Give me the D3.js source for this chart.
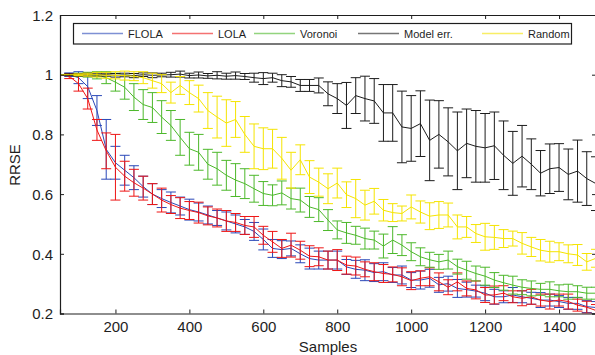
<!DOCTYPE html>
<html>
<head>
<meta charset="utf-8">
<script src="https://cdn.jsdelivr.net/npm/d3@7"></script>
<style>
  html, body { margin: 0; padding: 0; background: #fff; }
  svg { display: block; font-family: "Liberation Sans", Arial, Helvetica, sans-serif; }
</style>
</head>
<body>
<svg id="chart" width="595" height="355"></svg>
<script>
const samples = [
  50, 75, 100, 125, 150, 175, 200, 225, 250, 275,
  300, 325, 350, 375, 400, 425, 450, 475, 500, 525,
  550, 575, 600, 625, 650, 675, 700, 725, 750, 775,
  800, 825, 850, 875, 900, 925, 950, 975, 1000, 1025,
  1050, 1075, 1100, 1125, 1150, 1175, 1200, 1225, 1250, 1275,
  1300, 1325, 1350, 1375, 1400, 1425, 1450, 1475, 1500
];
const flola = [
  1.0, 1.0, 0.99, 0.96, 0.88, 0.75, 0.705, 0.68, 0.655, 0.625,
  0.60, 0.585, 0.572, 0.56, 0.548, 0.54, 0.53, 0.52, 0.51, 0.50,
  0.49, 0.475, 0.448, 0.418, 0.414, 0.418, 0.40, 0.384, 0.379, 0.379,
  0.379, 0.356, 0.348, 0.345, 0.337, 0.34, 0.329, 0.329, 0.312, 0.312,
  0.318, 0.296, 0.30, 0.284, 0.28, 0.275, 0.268, 0.256, 0.256, 0.262,
  0.256, 0.251, 0.245, 0.245, 0.24, 0.234, 0.234, 0.223, 0.22
];
const flolaErr = [
  0, 0.006, 0.02, 0.04, 0.05, 0.10, 0.055, 0.05, 0.04, 0.035,
  0.035, 0.03, 0.035, 0.03, 0.035, 0.03, 0.03, 0.025, 0.03, 0.03,
  0.025, 0.03, 0.035, 0.03, 0.03, 0.025, 0.03, 0.035, 0.03, 0.03,
  0.03, 0.025, 0.03, 0.035, 0.03, 0.03, 0.025, 0.03, 0.025, 0.03,
  0.03, 0.025, 0.025, 0.03, 0.025, 0.02, 0.025, 0.025, 0.02, 0.025,
  0.02, 0.02, 0.025, 0.02, 0.02, 0.02, 0.02, 0.02, 0.02
];
const lola = [
  1.0, 0.995, 0.97, 0.92, 0.815, 0.745, 0.69, 0.66, 0.638, 0.62,
  0.60, 0.58, 0.565, 0.553, 0.545, 0.538, 0.527, 0.52, 0.51, 0.505,
  0.495, 0.49, 0.462, 0.44, 0.418, 0.429, 0.412, 0.392, 0.39, 0.379,
  0.379, 0.362, 0.359, 0.348, 0.34, 0.334, 0.331, 0.323, 0.31, 0.318,
  0.323, 0.306, 0.288, 0.306, 0.284, 0.279, 0.262, 0.262, 0.268, 0.256,
  0.251, 0.256, 0.245, 0.24, 0.245, 0.24, 0.228, 0.221, 0.21
];
const lolaErr = [
  0, 0.008, 0.025, 0.035, 0.035, 0.06, 0.11, 0.05, 0.045, 0.04,
  0.035, 0.04, 0.03, 0.035, 0.03, 0.035, 0.03, 0.03, 0.035, 0.03,
  0.03, 0.035, 0.03, 0.035, 0.03, 0.04, 0.03, 0.035, 0.03, 0.03,
  0.035, 0.03, 0.03, 0.025, 0.03, 0.03, 0.025, 0.03, 0.03, 0.025,
  0.03, 0.03, 0.025, 0.03, 0.025, 0.03, 0.025, 0.03, 0.025, 0.02,
  0.025, 0.025, 0.02, 0.025, 0.02, 0.025, 0.02, 0.02, 0.02
];
const voronoi = [
  1.0, 1.0, 1.0, 1.0, 0.998, 0.99, 0.975, 0.958, 0.925, 0.90,
  0.89, 0.858, 0.83, 0.79, 0.752, 0.74, 0.70, 0.685, 0.663, 0.647,
  0.635, 0.618, 0.602, 0.596, 0.604, 0.585, 0.58, 0.557, 0.548, 0.513,
  0.48, 0.47, 0.462, 0.451, 0.446, 0.426, 0.446, 0.429, 0.407, 0.39,
  0.38, 0.373, 0.379, 0.357, 0.345, 0.334, 0.325, 0.312, 0.303, 0.295,
  0.288, 0.284, 0.281, 0.281, 0.276, 0.273, 0.273, 0.268, 0.268
];
const voronoiErr = [
  0, 0, 0.005, 0.008, 0.012, 0.02, 0.03, 0.04, 0.045, 0.05,
  0.05, 0.055, 0.05, 0.06, 0.055, 0.06, 0.05, 0.055, 0.05, 0.055,
  0.05, 0.045, 0.04, 0.035, 0.04, 0.035, 0.04, 0.035, 0.04, 0.035,
  0.03, 0.035, 0.03, 0.035, 0.03, 0.04, 0.045, 0.035, 0.03, 0.03,
  0.025, 0.025, 0.03, 0.025, 0.03, 0.025, 0.03, 0.025, 0.025, 0.03,
  0.025, 0.025, 0.02, 0.025, 0.02, 0.025, 0.02, 0.02, 0.02
];
const modelError = [
  1.0, 1.0, 1.0, 1.0, 1.0, 1.0, 0.998, 0.999, 0.997, 1.0,
  0.998, 0.999, 1.0, 1.002, 0.997, 0.999, 0.996, 0.998, 0.995, 0.997,
  0.994, 0.99, 0.987, 0.99, 0.98, 0.976, 0.964, 0.964, 0.964, 0.936,
  0.92, 0.897, 0.93, 0.92, 0.912, 0.872, 0.872, 0.825, 0.82, 0.836,
  0.78, 0.80, 0.775, 0.745, 0.77, 0.76, 0.755, 0.762, 0.73, 0.703,
  0.727, 0.70, 0.67, 0.685, 0.689, 0.666, 0.677, 0.652, 0.635
];
const modelErrorErr = [
  0, 0.003, 0.004, 0.005, 0.005, 0.005, 0.006, 0.006, 0.007, 0.006,
  0.008, 0.006, 0.008, 0.01, 0.008, 0.01, 0.008, 0.012, 0.01, 0.012,
  0.01, 0.015, 0.02, 0.015, 0.02, 0.018, 0.02, 0.02, 0.025, 0.04,
  0.05, 0.077, 0.06, 0.075, 0.075, 0.095, 0.095, 0.12, 0.11, 0.11,
  0.135, 0.113, 0.114, 0.13, 0.115, 0.12, 0.115, 0.113, 0.115, 0.107,
  0.103, 0.085, 0.076, 0.083, 0.08, 0.085, 0.104, 0.09, 0.09
];
const random = [
  1.0, 1.0, 1.0, 1.0, 1.0, 0.998, 0.998, 0.997, 0.995, 0.99,
  0.98, 0.97, 0.94, 0.964, 0.94, 0.92, 0.88, 0.858, 0.838, 0.85,
  0.80, 0.76, 0.752, 0.752, 0.72, 0.68, 0.715, 0.657, 0.64, 0.618,
  0.637, 0.598, 0.585, 0.563, 0.576, 0.546, 0.538, 0.535, 0.557, 0.54,
  0.526, 0.53, 0.53, 0.49, 0.49, 0.468, 0.457, 0.455, 0.451, 0.451,
  0.435, 0.423, 0.412, 0.407, 0.407, 0.40, 0.396, 0.373, 0.385
];
const randomErr = [
  0, 0, 0.003, 0.005, 0.008, 0.01, 0.012, 0.015, 0.015, 0.02,
  0.025, 0.03, 0.035, 0.03, 0.04, 0.045, 0.06, 0.07, 0.078, 0.06,
  0.06, 0.075, 0.07, 0.065, 0.07, 0.06, 0.05, 0.055, 0.047, 0.05,
  0.05, 0.043, 0.064, 0.05, 0.043, 0.036, 0.03, 0.025, 0.04, 0.037,
  0.045, 0.045, 0.04, 0.04, 0.035, 0.03, 0.045, 0.04, 0.03, 0.025,
  0.036, 0.032, 0.036, 0.035, 0.03, 0.03, 0.035, 0.028, 0.03
];
const seriesNames = ["FLOLA", "LOLA", "Voronoi", "Model err.", "Random"];
const seriesColors = ["#2a48b8", "#ee1515", "#4cb82a", "#1c1c1c", "#f5e400"];
const xTicks = [200, 400, 600, 800, 1000, 1200, 1400];
const yTicks = [0.2, 0.4, 0.6, 0.8, 1.0, 1.2];
const yTickLabels = ["0.2", "0.4", "0.6", "0.8", "1", "1.2"];
const xLabel = "Samples";
const yLabel = "RRSE";

const seriesMeans = [flola, lola, voronoi, modelError, random];
const seriesErrs = [flolaErr, lolaErr, voronoiErr, modelErrorErr, randomErr];

(function draw() {
  const svg = d3.select("#chart");
  const pLeft = 60, pRight = 596, pTop = 15, pBottom = 313.5;
  const x = d3.scaleLinear().domain([50, 1500]).range([pLeft, pRight]);
  const y = d3.scaleLinear().domain([0.2, 1.2]).range([pBottom, pTop]);
  const axisColor = "#1e1e1e";

  svg.append("defs").append("clipPath").attr("id", "plotclip")
    .append("rect").attr("x", pLeft).attr("y", pTop).attr("width", pRight - pLeft).attr("height", pBottom - pTop);

  const plot = svg.append("g").attr("clip-path", "url(#plotclip)");
  const capHalf = 5;

  seriesMeans.forEach((means, si) => {
    const errs = seriesErrs[si];
    const color = seriesColors[si];
    const g = plot.append("g");
    const pts = samples.map((s, i) => ({ s, m: means[i], e: errs[i] }));
    const bars = g.selectAll("g.eb").data(pts.filter(d => d.e > 0)).join("g").attr("class", "eb");
    bars.append("line")
      .attr("x1", d => x(d.s)).attr("x2", d => x(d.s))
      .attr("y1", d => y(d.m - d.e)).attr("y2", d => y(d.m + d.e))
      .attr("stroke", color).attr("stroke-width", 1);
    bars.append("line")
      .attr("x1", d => x(d.s) - capHalf).attr("x2", d => x(d.s) + capHalf)
      .attr("y1", d => y(d.m - d.e)).attr("y2", d => y(d.m - d.e))
      .attr("stroke", color).attr("stroke-width", 1);
    bars.append("line")
      .attr("x1", d => x(d.s) - capHalf).attr("x2", d => x(d.s) + capHalf)
      .attr("y1", d => y(d.m + d.e)).attr("y2", d => y(d.m + d.e))
      .attr("stroke", color).attr("stroke-width", 1);
    g.append("path").datum(pts)
      .attr("fill", "none").attr("stroke", color).attr("stroke-width", 1)
      .attr("d", d3.line().x(d => x(d.s)).y(d => y(d.m)));
  });

  const xAxisB = d3.axisBottom(x).tickValues(xTicks).tickSize(-4).tickPadding(8).tickFormat(d3.format("d"));
  const gxb = svg.append("g").attr("transform", `translate(0,${pBottom})`).call(xAxisB);
  const xAxisT = d3.axisTop(x).tickValues(xTicks).tickSize(-4).tickFormat("");
  const gxt = svg.append("g").attr("transform", `translate(0,${pTop})`).call(xAxisT);
  const yAxisL = d3.axisLeft(y).tickValues(yTicks).tickSize(-4).tickPadding(7)
    .tickFormat((d, i) => yTickLabels[i]);
  const gyl = svg.append("g").attr("transform", `translate(${pLeft},0)`).call(yAxisL);
  const yAxisR = d3.axisRight(y).tickValues(yTicks).tickSize(-4).tickFormat("");
  const gyr = svg.append("g").attr("transform", `translate(${pRight},0)`).call(yAxisR);

  [gxb, gxt, gyl, gyr].forEach(g => {
    g.select(".domain").attr("stroke", axisColor).attr("stroke-width", 1.2);
    g.selectAll(".tick line").attr("stroke", axisColor);
    g.selectAll(".tick text").attr("fill", axisColor).style("font-size", "15px")
      .style("font-family", '"Liberation Sans", Arial, sans-serif');
  });
  gyl.selectAll(".tick text").attr("dy", "0.35em");

  svg.append("text").attr("x", (pLeft + pRight) / 2).attr("y", 351.5)
    .attr("text-anchor", "middle").attr("fill", axisColor).style("font-size", "15px").text(xLabel);
  svg.append("text").attr("transform", "translate(20,165) rotate(-90)")
    .attr("text-anchor", "middle").attr("fill", axisColor).style("font-size", "15px").text(yLabel);

  const leg = svg.append("g");
  leg.append("rect").attr("x", 73.5).attr("y", 23.5).attr("width", 498).attr("height", 20.5)
    .attr("fill", "#fff").attr("stroke", axisColor).attr("stroke-width", 1.2);
  const legLineX = [82, 172, 254, 358, 482];
  seriesNames.forEach((name, i) => {
    leg.append("line").attr("x1", legLineX[i]).attr("x2", legLineX[i] + 41)
      .attr("y1", 33.5).attr("y2", 33.5).attr("stroke", seriesColors[i]).attr("stroke-width", 1.6).attr("opacity", 0.6);
    leg.append("text").attr("x", legLineX[i] + 46).attr("y", 38)
      .attr("fill", axisColor).style("font-size", "11px").text(name);
  });
})();
</script>
</body>
</html>
